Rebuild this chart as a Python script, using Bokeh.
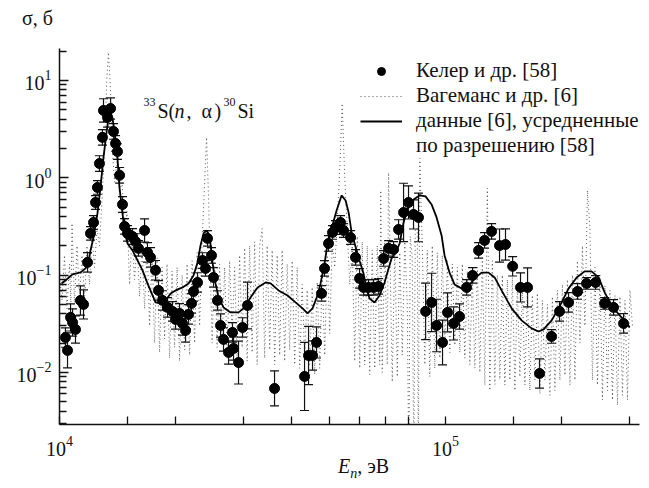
from bokeh.plotting import figure
from bokeh.layouts import column
from bokeh.models import (Range1d, FixedTicker, LogTickFormatter, ColumnDataSource,
                          Whisker, TeeHead, Label, Legend, LegendItem, Div)
from bokeh.core.properties import value
from bokeh.embed import file_html
from bokeh.resources import INLINE

# ---------------- data ----------------
# Koehler et al. [58] measured points (E in eV, sigma in barn) and error size (decades)
kohler_E = [10360, 10490, 10680, 10810, 11000, 11330, 11540, 11820, 12030, 12250,
            12400, 12540, 12690, 12920, 13000, 13320, 13560, 13800, 13970, 14130,
            14310, 14560, 14740, 15000, 15460, 15740, 16020, 16610, 16900, 17210,
            17730, 18050, 18490, 19050, 19620, 19980, 20460, 20830, 21210, 21590,
            21980, 22240, 22780, 23470, 23890, 24180, 24760, 25060, 25660, 26130,
            26600, 27410, 28240, 29090, 28060, 29800, 30690, 36060, 43130, 44170,
            45230, 46330, 47730, 48590, 49760, 50960, 51880, 53460, 54430, 56750,
            58460, 59880, 61330, 63170, 65110, 67080, 69110, 71200, 73350, 75560,
            77850, 80190, 82620, 85110, 88780, 91990, 94790, 98220, 101200, 104900,
            108700, 113400, 117500, 121800, 126200, 131600, 138000, 143000, 149200, 156400,
            163100, 175200, 188200, 197400, 208300, 219800, 231900, 244700, 258200, 272400,
            289200]
kohler_sigma = [0.0228, 0.0168, 0.0367, 0.0326, 0.0276, 0.0548, 0.0499, 0.135, 0.268, 0.347,
                0.557, 0.795, 1.40, 2.60, 4.92, 4.17, 5.15, 2.99, 2.25, 1.86,
                1.06, 0.531, 0.316, 0.268, 0.249, 0.221, 0.188, 0.287, 0.171, 0.152,
                0.112, 0.0695, 0.0548, 0.0465, 0.0423, 0.0350, 0.0403, 0.0318, 0.0270, 0.0394,
                0.0511, 0.0678, 0.0839, 0.141, 0.117, 0.238, 0.159, 0.0945, 0.0548, 0.0303,
                0.0218, 0.0160, 0.0176, 0.0126, 0.0257, 0.0289, 0.0487, 0.00683, 0.00907, 0.0149,
                0.0149, 0.0203, 0.0647, 0.117, 0.211, 0.274, 0.308, 0.347, 0.287, 0.243,
                0.152, 0.0923, 0.0746, 0.0746, 0.0746, 0.0764, 0.148, 0.188, 0.183, 0.294,
                0.440, 0.557, 0.420, 0.391, 0.0423, 0.0523, 0.0303, 0.0203, 0.0413, 0.0318,
                0.0375, 0.0746, 0.0991, 0.179, 0.227, 0.281, 0.201, 0.206, 0.123, 0.0746,
                0.0746, 0.00974, 0.0234, 0.0423, 0.0523, 0.0678, 0.0820, 0.0839, 0.0511, 0.0465,
                0.0318]
kohler_err_dec = [0.10, 0.18, 0.14, 0.14, 0.14, 0.15, 0.15, 0.10, 0.07, 0.07,
                  0.07, 0.07, 0.08, 0.08, 0.12, 0.10, 0.11, 0.08, 0.08, 0.08,
                  0.08, 0.08, 0.08, 0.08, 0.08, 0.08, 0.08, 0.12, 0.10, 0.10,
                  0.10, 0.10, 0.10, 0.10, 0.10, 0.10, 0.10, 0.12, 0.12, 0.10,
                  0.10, 0.10, 0.10, 0.08, 0.08, 0.08, 0.08, 0.10, 0.10, 0.12,
                  0.12, 0.12, 0.12, 0.22, 0.10, 0.10, 0.24, 0.18, 0.35, 0.30,
                  0.15, 0.16, 0.08, 0.08, 0.08, 0.07, 0.07, 0.07, 0.07, 0.07,
                  0.08, 0.10, 0.08, 0.08, 0.08, 0.08, 0.08, 0.08, 0.08, 0.10,
                  0.30, 0.17, 0.15, 0.25, 0.29, 0.30, 0.27, 0.23, 0.20, 0.17,
                  0.13, 0.08, 0.08, 0.08, 0.08, 0.08, 0.17, 0.16, 0.10, 0.15,
                  0.20, 0.15, 0.07, 0.10, 0.10, 0.08, 0.06, 0.07, 0.06, 0.08,
                  0.10]

# Wagemans et al. [6] (dotted, resonance structure)
wag_E = [10000, 10150, 10303, 10458, 10615, 10700, 10775, 10937, 11101, 11268,
         11437, 11610, 11785, 11961, 12141, 12324, 12509, 12697, 12888, 13082,
         13240, 13390, 13560, 13720, 13887, 14096, 14307, 14522, 14741, 14963,
         15187, 15415, 15647, 15882, 16121, 16363, 16610, 16860, 17113, 17370,
         17631, 17896, 18166, 18439, 18716, 18997, 19283, 19573, 19867, 20166,
         20469, 20777, 21089, 21406, 21728, 22055, 22386, 22722, 23064, 23411,
         23763, 24040, 24337, 24851, 25225, 25604, 25989, 26380, 26777, 27179,
         27588, 28003, 28424, 28851, 29285, 29725, 30172, 30626, 31086, 31553,
         32028, 32509, 32998, 33494, 33998, 34509, 35028, 35555, 36089, 36631,
         37183, 37742, 38309, 38885, 39470, 40063, 40666, 41277, 41898, 42528,
         43167, 43816, 44475, 45143, 45822, 46511, 47211, 47921, 48641, 49372,
         50115, 50868, 51633, 52409, 53198, 53997, 54809, 55633, 56470, 57319,
         58181, 59055, 59944, 60845, 61760, 62688, 63631, 64587, 65559, 66544,
         67545, 67950, 68560, 69592, 70638, 71200, 72778, 73872, 74982, 76111,
         77255, 78417, 79596, 80310, 81034, 82006, 82744, 83490, 84491, 84994,
         85762, 87051, 88361, 89689, 91038, 92406, 93796, 95206, 96638, 98090,
         99566, 101062, 102583, 104125, 105691, 107279, 108893, 110530, 112192, 113879,
         115591, 117329, 119094, 120884, 122702, 124546, 126420, 128320, 130250, 132207,
         134197, 136213, 138262, 140340, 142451, 144592, 146767, 148973, 151214, 153487,
         155796, 158136, 160516, 162928, 165379, 167864, 170390, 172946, 175552, 178191,
         180871, 183591, 186351, 189150, 191997, 194881, 197814, 200787, 203808, 206870,
         209983, 213140, 216345, 219598, 222900, 226249, 229653, 233103, 236611, 240171,
         243780, 247443, 251166, 254939, 258776, 262663, 266617, 270619, 274695, 278827,
         283018, 287271, 291593, 295967, 300428, 304935]
wag_sigma = [0.10, 0.055, 0.16, 0.045, 0.13, 0.05, 0.34, 0.05, 0.20, 0.06,
             0.16, 0.055, 0.20, 0.08, 0.25, 0.12, 0.30, 0.20, 0.60, 2.0,
             9.0, 19.4, 8.0, 1.8, 0.9, 1.5, 0.7, 0.9, 0.30, 0.45,
             0.08, 0.26, 0.09, 0.22, 0.06, 0.20, 0.045, 0.22, 0.030, 0.18,
             0.020, 0.15, 0.016, 0.12, 0.022, 0.13, 0.014, 0.11, 0.018, 0.12,
             0.013, 0.10, 0.017, 0.13, 0.015, 0.14, 0.020, 0.17, 0.030, 0.22,
             0.9, 2.6, 0.6, 0.020, 0.16, 0.018, 0.13, 0.020, 0.12, 0.015,
             0.14, 0.025, 0.12, 0.014, 0.16, 0.018, 0.19, 0.013, 0.20, 0.016,
             0.22, 0.012, 0.20, 0.30, 0.014, 0.20, 0.017, 0.18, 0.012, 0.16,
             0.015, 0.18, 0.013, 0.13, 0.017, 0.14, 0.012, 0.12, 0.011, 0.08,
             0.014, 0.07, 0.012, 0.075, 0.0095, 0.085, 0.011, 0.10, 0.015, 0.16,
             0.025, 0.22, 0.12, 0.35, 1.2, 5.8, 1.0, 0.30, 0.08, 0.20,
             0.013, 0.25, 0.011, 0.22, 0.012, 0.20, 0.0095, 0.18, 0.011, 0.20,
             0.012, 0.74, 0.010, 0.22, 0.012, 1.13, 0.008, 0.20, 0.009, 0.17,
             0.015, 0.22, 0.05, 0.001, 0.25, 0.15, 0.001, 0.30, 0.30, 0.001,
             1.58, 0.20, 0.012, 0.18, 0.009, 0.20, 0.011, 0.17, 0.014, 0.16,
             0.018, 0.14, 0.016, 0.13, 0.019, 0.12, 0.016, 0.13, 0.014, 0.11,
             0.012, 0.10, 0.011, 0.12, 0.010, 0.15, 0.0074, 0.78, 0.0065, 0.14,
             0.0075, 0.10, 0.0085, 0.10, 0.0074, 0.09, 0.0083, 0.095, 0.0065, 0.078,
             0.009, 0.08, 0.0074, 0.07, 0.0065, 0.062, 0.0083, 0.065, 0.006, 0.055,
             0.0083, 0.05, 0.0058, 0.06, 0.0065, 0.07, 0.0083, 0.08, 0.0093, 0.09,
             0.0074, 0.10, 0.0083, 0.14, 0.020, 0.20, 0.030, 0.74, 0.30, 0.0083,
             0.12, 0.0074, 0.10, 0.0052, 0.078, 0.0065, 0.07, 0.0052, 0.062, 0.0046,
             0.06, 0.0058, 0.055, 0.0052, 0.07, 0.03]

# data [6] averaged over resolution [58] (solid)
avg_E = [10120, 10360, 10810, 11330, 11680, 11890, 12030, 12250, 12540, 12770,
         13000, 13240, 13390, 13560, 13720, 13890, 14130, 14300, 14560, 14740,
         15000, 15460, 16020, 16410, 16900, 17420, 17730, 18270, 18830, 19400,
         19980, 20830, 21590, 22240, 22790, 23190, 23610, 24040, 24470, 24910,
         25360, 25820, 26600, 27740, 29090, 29980, 31250, 32590, 34190, 35220,
         36930, 38970, 40880, 42620, 43910, 45230, 46610, 47450, 48600, 49480,
         50680, 52210, 53790, 55090, 56090, 57100, 58140, 59850, 61310, 62420,
         63550, 65480, 67460, 69510, 71200, 72480, 74680, 76030, 77850, 79730,
         82620, 85660, 88780, 92000, 94800, 97660, 99420, 102400, 105500, 110000,
         114700, 118900, 124000, 129200, 134000, 139700, 148300, 157400, 167100, 174200,
         179500, 188300, 196300, 208400, 218600, 229300, 238900, 249200, 258300, 269300,
         282400, 294400, 299800]
avg_sigma = [0.082, 0.088, 0.1015, 0.1063, 0.117, 0.135, 0.179, 0.243, 0.430, 0.795,
             1.62, 2.92, 4.07, 4.69, 4.07, 2.92, 1.62, 0.795, 0.430, 0.287,
             0.211, 0.179, 0.135, 0.1115, 0.082, 0.0617, 0.0523, 0.0511, 0.0548, 0.0647,
             0.0695, 0.0746, 0.082, 0.0991, 0.135, 0.2015, 0.268, 0.287, 0.255, 0.135,
             0.082, 0.0589, 0.0465, 0.0413, 0.0413, 0.0454, 0.0589, 0.0746, 0.0839, 0.082,
             0.0695, 0.0617, 0.0523, 0.0454, 0.0403, 0.0454, 0.0617, 0.082, 0.1316, 0.211,
             0.301, 0.461, 0.658, 0.584, 0.440, 0.274, 0.211, 0.141, 0.104, 0.0729,
             0.0575, 0.0523, 0.0617, 0.0839, 0.117, 0.148, 0.179, 0.211, 0.347, 0.484,
             0.598, 0.658, 0.643, 0.532, 0.391, 0.255, 0.159, 0.106, 0.080, 0.0729,
             0.0764, 0.0923, 0.106, 0.106, 0.0945, 0.0695, 0.0454, 0.0342, 0.0283, 0.0263,
             0.0276, 0.0342, 0.0454, 0.0729, 0.0945, 0.109, 0.109, 0.0945, 0.0663, 0.0487,
             0.0385, 0.0326, 0.0289]

# axis ticks
x_major_ticks = [1e4, 1e5]
x_minor_ticks = [1.5e4, 2e4, 3e4, 4e4, 5e4, 6e4, 7e4, 8e4, 1.5e5, 2e5, 3e5]
y_major_ticks = [1e-2, 1e-1, 1e0, 1e1]
y_minor_ticks = [m * d for d in (1e-3, 1e-2, 1e-1, 1e0, 1e1) for m in range(2, 10)]

legend_labels = ["Келер и др. [58]", "Вагеманс и др. [6]",
                 "данные [6], усредненные", "по разрешению [58]"]

FONT = "Liberation Serif"


def lab(fig, x, y, text, size="20px", style="normal"):
    fig.add_layout(Label(x=x, y=y, x_units="screen", y_units="screen", text=text,
                         text_font=FONT, text_font_size=size, text_font_style=style,
                         text_color="#111111", text_baseline="alphabetic", text_align="left"))


BASE_CSS = ("position:relative; white-space:nowrap; font-family:'Liberation Serif'; "
            "font-size:20px; line-height:20px; color:#111111;")

# ---------------- strip above: y axis title ----------------
top = Div(text='<div style="%s left:22px; top:8px;">σ, б</div>' % BASE_CSS,
          width=649, height=32, margin=0)

# ---------------- main figure ----------------
p = figure(width=649, height=428, x_axis_type="log", y_axis_type="log",
           x_range=Range1d(1e4, 3.18e5), y_range=Range1d(2.91e-3, 21.3),
           output_backend="svg", toolbar_location=None,
           min_border_left=59, min_border_right=10, min_border_top=16, min_border_bottom=36)
p.outline_line_color = None
p.grid.visible = False
p.background_fill_color = "white"
p.border_fill_color = "white"

xa = p.xaxis[0]
xa.ticker = FixedTicker(ticks=x_major_ticks, minor_ticks=x_minor_ticks)
xa.formatter = LogTickFormatter()
ya = p.yaxis[0]
ya.ticker = FixedTicker(ticks=y_major_ticks, minor_ticks=y_minor_ticks)
ya.formatter = LogTickFormatter()
for ax in (xa, ya):
    ax.axis_line_width = 1.5
    ax.axis_line_color = "#111111"
    ax.major_tick_out = 0
    ax.minor_tick_out = 0
    ax.major_tick_line_width = 1.3
    ax.minor_tick_line_width = 1.3
    ax.major_tick_line_color = "#111111"
    ax.minor_tick_line_color = "#111111"
    ax.major_label_text_font = FONT
    ax.major_label_text_font_size = "20px"
    ax.major_label_text_color = "#111111"
xa.major_label_standoff = 11
ya.major_label_standoff = 8
xa.major_tick_in = 8
xa.minor_tick_in = 8
ya.major_tick_in = 9
ya.minor_tick_in = 7

# dotted Wagemans curve
dotted = p.line(wag_E, wag_sigma, line_color="#444444", line_width=0.9, line_dash="1 3")
# solid averaged curve
solid = p.line(avg_E, avg_sigma, line_color="black", line_width=1.8)

# error bars
lo = [s / 10 ** e for s, e in zip(kohler_sigma, kohler_err_dec)]
hi = [s * 10 ** e for s, e in zip(kohler_sigma, kohler_err_dec)]
src = ColumnDataSource(dict(E=kohler_E, s=kohler_sigma, lo=lo, hi=hi))
w = Whisker(source=src, base="E", lower="lo", upper="hi", dimension="height",
            line_color="#111111", line_width=1.2, level="underlay",
            upper_head=TeeHead(size=9, line_color="#111111", line_width=1.2),
            lower_head=TeeHead(size=9, line_color="#111111", line_width=1.2))
p.add_layout(w)

dots = p.scatter("E", "s", source=src, size=10, marker="circle",
                 fill_color="black", line_color="black")

ghost = p.line(x=[], y=[], line_alpha=0)

legend = Legend(items=[
    LegendItem(label=value(legend_labels[0]), renderers=[dots]),
    LegendItem(label=value(legend_labels[1]), renderers=[dotted]),
    LegendItem(label=value(legend_labels[2]), renderers=[solid]),
    LegendItem(label=value(legend_labels[3]), renderers=[ghost]),
], location=(301, 266), padding=0, margin=0, spacing=0, glyph_width=42, glyph_height=20,
   label_standoff=14, label_height=20, label_text_font=FONT, label_text_font_size="21px",
   label_text_color="#111111", border_line_color=None, background_fill_alpha=0)
p.add_layout(legend)

# reaction title 33S(n, α)30Si
lab(p, 84, 323, "33", "12px")
lab(p, 98, 314, "S(")
lab(p, 115, 314, "n", style="italic")
lab(p, 127, 314, ",")
lab(p, 142, 314, "α")
lab(p, 155, 314, ")")
lab(p, 164, 323, "30", "12px")
lab(p, 178, 314, "Si")

# ---------------- strip below: x axis title ----------------
bottom = Div(text=('<div style="%s left:338px; top:-4px;"><i>E</i>'
                   '<span style="font-size:14px; font-style:italic; position:relative; top:5px;">n</span>'
                   ', эВ</div>') % BASE_CSS,
             width=649, height=28, margin=0)

layout = column(top, p, bottom, spacing=0)
open("out.html", "w").write(file_html(layout, INLINE))
